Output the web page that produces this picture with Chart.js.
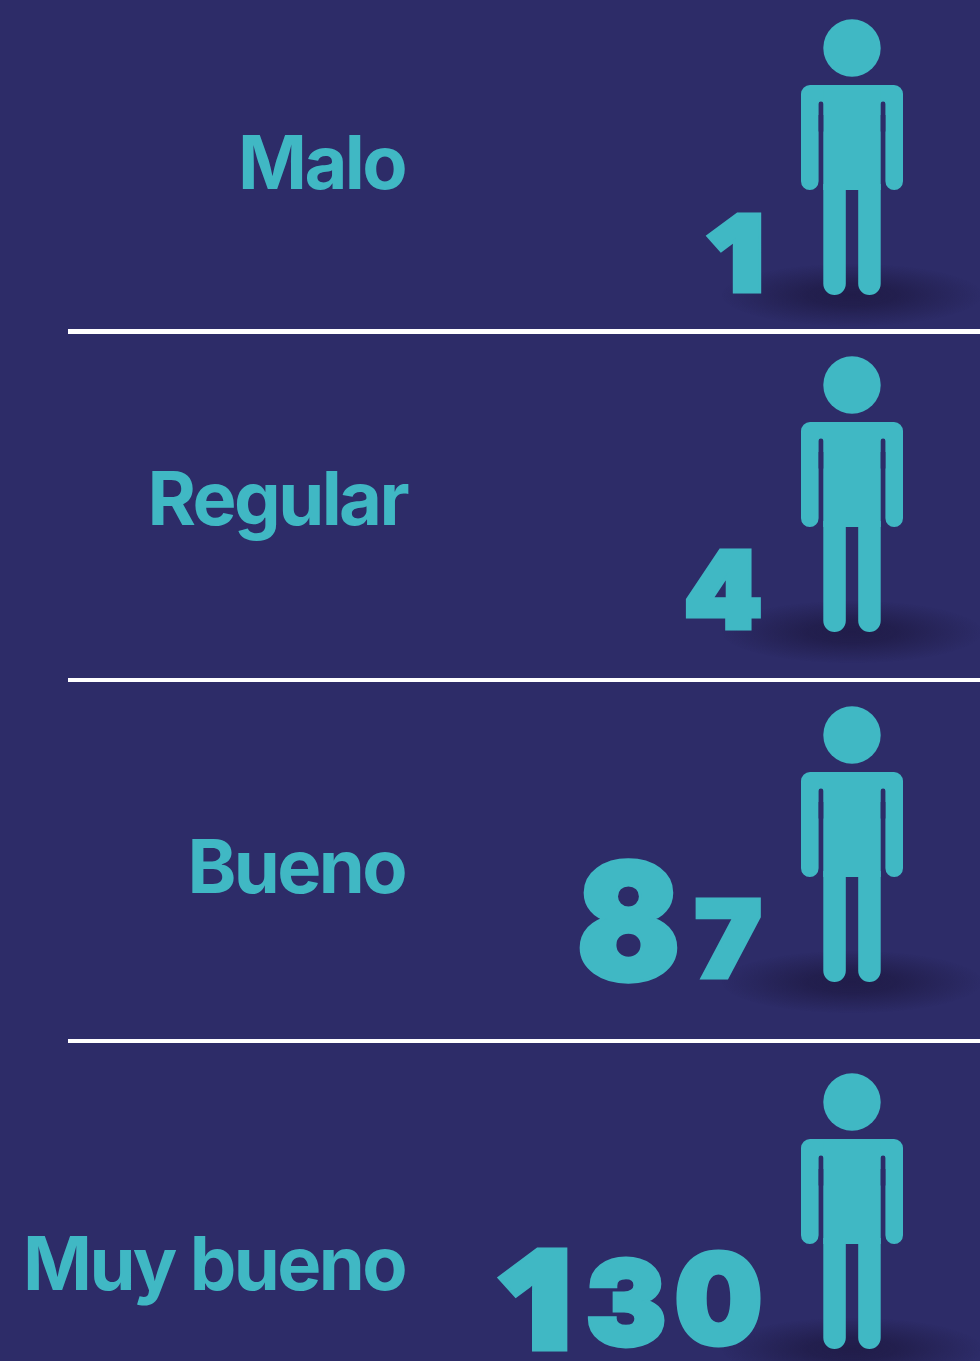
<!DOCTYPE html>
<html lang="es">
<head>
<meta charset="utf-8">
<title>Malo, Regular, Bueno, Muy bueno</title>
<script src="https://cdn.jsdelivr.net/npm/chart.js@4/dist/chart.umd.js"></script>
<style>
  html, body { margin: 0; padding: 0; background: #2d2c68; }
  canvas { display: block; }
</style>
</head>
<body>
<canvas id="chart" width="980" height="1361"></canvas>
<script>
// datos
const categories = ["Malo", "Regular", "Bueno", "Muy bueno"];
const values = [1, 4, 87, 130];

// colores
const BG = "#2d2c68";
const TEAL = "#40b8c4";

// maquetación (en unidades de eje = px de la imagen)
const PERSON_X = 852;
const PERSON_Y = [175, 512, 862, 1229];
const LABEL_Y = [189, 525, 893, 1290];
const LABEL_RIGHT = [405, 407, 405, 405];
const SEPARATORS = [331, 680, 1041];

// cajas de cada dígito: izquierda, derecha, arriba, abajo
const DIGIT_BOXES = [
  [[707, 761, 212, 293]],
  [[686, 761, 548, 630]],
  [[579, 678, 858, 983], [695, 761, 897, 979]],
  [[498, 567, 1246, 1351], [587, 665, 1256, 1349], [676, 761, 1249, 1348]]
];

// figura de persona con su sombra, como pointStyle
function buildPerson() {
  const c = document.createElement("canvas");
  c.width = 300;
  c.height = 320;
  const g = c.getContext("2d");
  const cx = 150, top = 4;

  g.save();
  g.translate(cx, top + 276);
  g.scale(1, 0.24);
  const shadow = g.createRadialGradient(0, 0, 0, 0, 0, 130);
  shadow.addColorStop(0, "rgba(32,28,72,0.95)");
  shadow.addColorStop(0.35, "rgba(32,28,72,0.8)");
  shadow.addColorStop(1, "rgba(32,28,72,0)");
  g.fillStyle = shadow;
  g.beginPath();
  g.arc(0, 0, 130, 0, Math.PI * 2);
  g.fill();
  g.restore();

  g.fillStyle = TEAL;
  g.beginPath();
  g.arc(cx, top + 29, 28.7, 0, Math.PI * 2);
  g.fill();

  // hombros y brazos
  g.beginPath();
  g.roundRect(cx - 51, top + 66, 102, 30, [9, 9, 0, 0]);
  g.fill();
  g.beginPath();
  g.roundRect(cx - 51, top + 80, 17.6, 91, [0, 0, 8.8, 8.8]);
  g.roundRect(cx + 33.4, top + 80, 17.6, 91, [0, 0, 8.8, 8.8]);
  g.fill();

  // tronco y piernas
  g.fillRect(cx - 28.7, top + 70, 57.4, 101);
  g.beginPath();
  g.roundRect(cx - 28.7, top + 165, 22.5, 111, [0, 0, 11.2, 11.2]);
  g.roundRect(cx + 6.2, top + 165, 22.5, 111, [0, 0, 11.2, 11.2]);
  g.fill();

  // hueco brazo / tronco
  g.fillStyle = BG;
  g.beginPath();
  g.roundRect(cx - 33.4, top + 82.5, 4.7, 30, [2.3, 2.3, 0, 0]);
  g.roundRect(cx + 28.7, top + 82.5, 4.7, 30, [2.3, 2.3, 0, 0]);
  g.fill();
  return c;
}

function drawDigit(ctx, ch, box) {
  const [x0, x1, y0, y1] = box;
  const pad = 2.5;
  ctx.save();
  ctx.font = ch === "1" ? "800 100px 'Open Sans'" : "900 100px Inter";
  ctx.textAlign = "left";
  ctx.textBaseline = "alphabetic";
  const m = ctx.measureText(ch);
  const w = m.actualBoundingBoxLeft + m.actualBoundingBoxRight;
  const h = m.actualBoundingBoxAscent + m.actualBoundingBoxDescent;
  const sx = (x1 - x0 - pad * 2) / w;
  const sy = (y1 - y0 - pad * 2) / h;
  ctx.translate(x0 + pad + m.actualBoundingBoxLeft * sx, y1 - pad - m.actualBoundingBoxDescent * sy);
  ctx.scale(sx, sy);
  ctx.fillStyle = TEAL;
  ctx.strokeStyle = TEAL;
  ctx.lineJoin = "miter";
  ctx.lineWidth = (pad * 2) / Math.min(sx, sy);
  ctx.strokeText(ch, 0, 0);
  ctx.fillText(ch, 0, 0);
  ctx.restore();
}

const rowText = {
  id: "rowText",
  afterDatasetsDraw(chart) {
    const { ctx, scales } = chart;
    categories.forEach((name, i) => {
      ctx.save();
      ctx.font = "700 74px Inter";
      ctx.letterSpacing = "-2.6px";
      ctx.fillStyle = TEAL;
      ctx.textAlign = "right";
      ctx.textBaseline = "alphabetic";
      ctx.fillText(name, scales.x.getPixelForValue(LABEL_RIGHT[i]), scales.y.getPixelForValue(LABEL_Y[i]));
      ctx.restore();

      String(values[i]).split("").forEach((ch, d) => drawDigit(ctx, ch, DIGIT_BOXES[i][d]));
    });
  }
};

new Chart(document.getElementById("chart"), {
  type: "scatter",
  data: {
    labels: categories,
    datasets: [{
      label: "Personas",
      data: categories.map((c, i) => ({ x: PERSON_X, y: PERSON_Y[i] })),
      pointStyle: buildPerson(),
      clip: false
    }]
  },
  options: {
    responsive: false,
    animation: false,
    layout: { autoPadding: false, padding: { left: 68 } },
    plugins: {
      legend: { display: false },
      tooltip: { enabled: false }
    },
    scales: {
      x: { display: false, min: 68, max: 980 },
      y: {
        reverse: true,
        min: 0,
        max: 1361,
        border: { display: false },
        grid: { color: "#ffffff", lineWidth: ctx => (ctx.index === 0 ? 5 : 4), drawTicks: false },
        ticks: { display: false },
        afterBuildTicks: axis => { axis.ticks = SEPARATORS.map(v => ({ value: v })); }
      }
    }
  },
  plugins: [rowText, {
    id: "bg",
    beforeDraw(chart) {
      const { ctx, width, height } = chart;
      ctx.save();
      ctx.fillStyle = BG;
      ctx.fillRect(0, 0, width, height);
      ctx.restore();
    }
  }]
});
</script>
</body>
</html>
